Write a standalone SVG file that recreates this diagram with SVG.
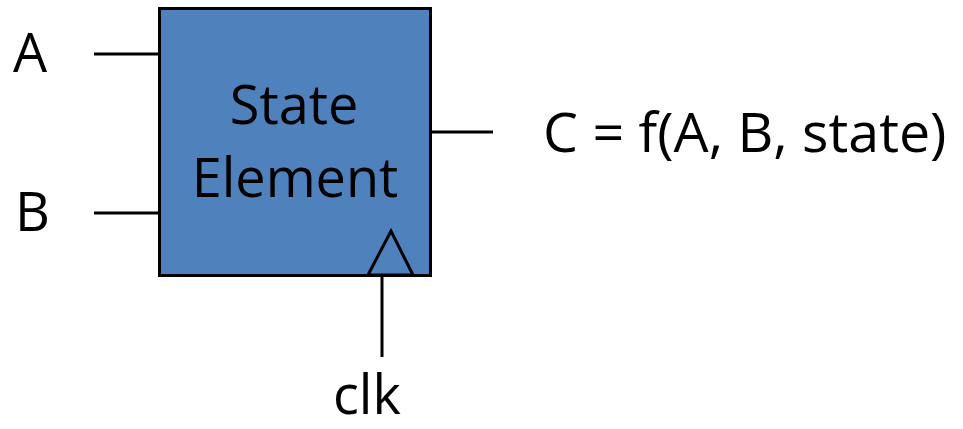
<svg xmlns="http://www.w3.org/2000/svg" width="963" height="429" viewBox="0 0 963 429">
  <style>
    .wire { stroke: #000; stroke-width: 3; fill: none; }
    .lbl { font-family: "Open Sans", "Liberation Sans", sans-serif; font-size: 54px; fill: #000; }
  </style>
  <rect width="963" height="429" fill="#fff"/>
  <g id="connectors">
    <line class="wire" x1="94" y1="54" x2="159" y2="54"/>
    <line class="wire" x1="94" y1="213" x2="159" y2="213"/>
    <line class="wire" x1="430" y1="132" x2="493" y2="132"/>
    <line class="wire" x1="382" y1="276" x2="382" y2="357"/>
  </g>
  <g id="state-element">
    <rect x="159.5" y="8.5" width="271" height="267" fill="#4F81BD" stroke="#000" stroke-width="3"/>
    <polygon points="368,275 391,231 413,275" fill="none" stroke="#000" stroke-width="3"/>
    <text class="lbl" x="294" y="124" text-anchor="middle">State</text>
    <text class="lbl" x="295" y="197" text-anchor="middle">Element</text>
  </g>
  <g id="input-a"><text class="lbl" x="13" y="72">A</text></g>
  <g id="input-b"><text class="lbl" x="15" y="231">B</text></g>
  <g id="output-c"><text class="lbl" x="543" y="152" style="font-size:55.5px">C = f(A, B, state)</text></g>
  <g id="clk"><text class="lbl" x="333" y="414">clk</text></g>
</svg>
